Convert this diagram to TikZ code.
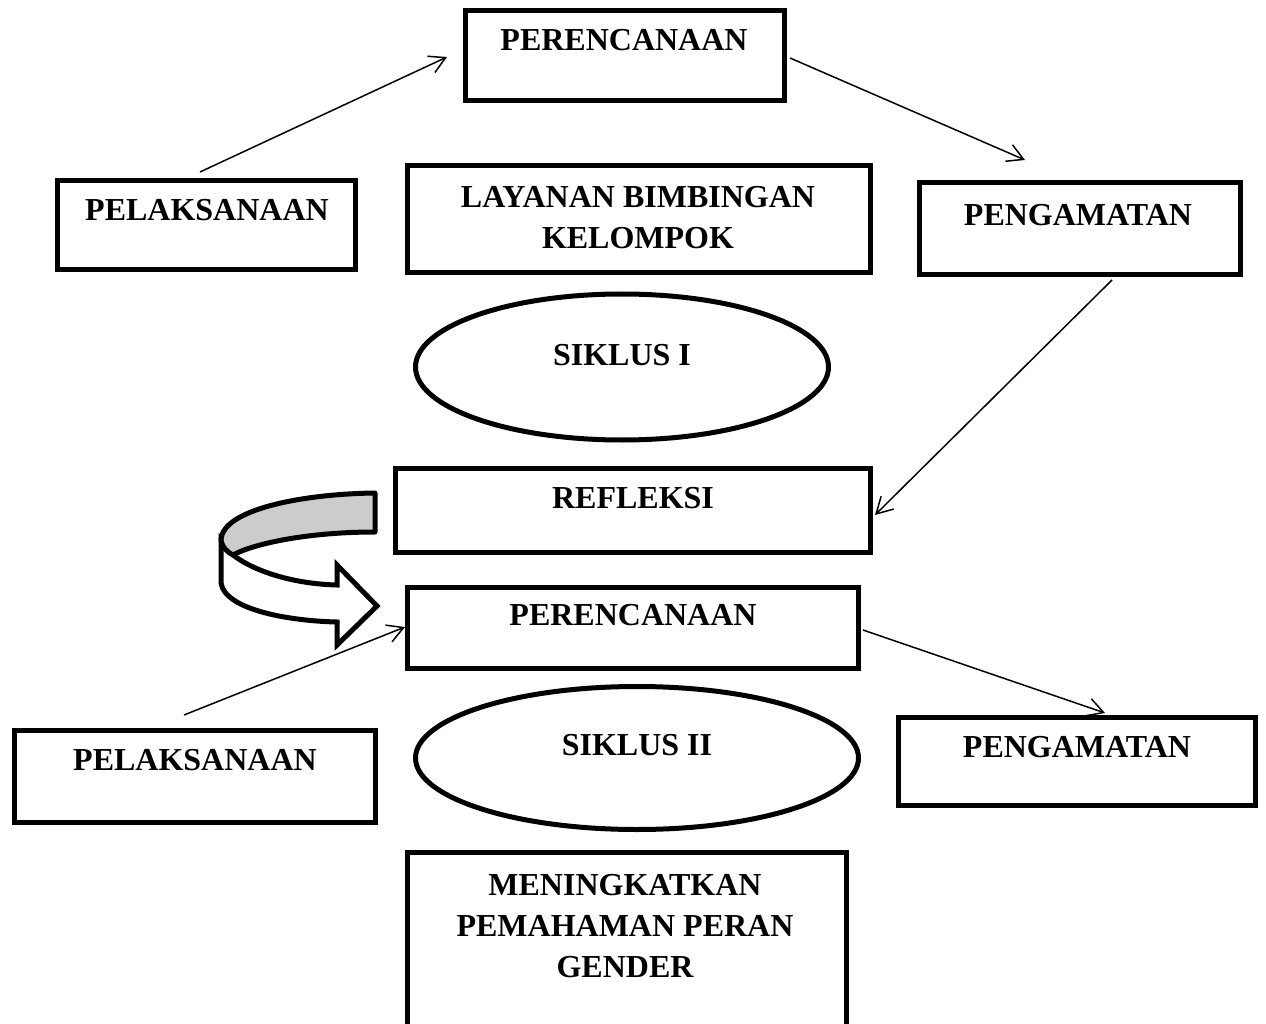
\documentclass[tikz,border=0pt]{standalone}
\usepackage{fontspec}
\setmainfont{Liberation Serif}
\usetikzlibrary{arrows.meta,shapes.geometric}
\begin{document}
\begin{tikzpicture}[x=1pt,y=-1pt,
  box/.style={draw,line width=5pt,inner sep=0pt},
  oval/.style={draw,ellipse,line width=5pt,inner sep=0pt},
  lbl/.style={font=\fontsize{32}{41}\selectfont\bfseries,align=center,inner sep=0pt},
  thin/.style={line width=1.5pt,-{Straight Barb[length=16pt,width=18pt,line width=1.5pt]}}]
\useasboundingbox (0,0) rectangle (1266,1024);
\begin{scope}
\clip (0,0) rectangle (1266,1024);
% boxes
\node[box,minimum width=319pt,minimum height=90pt] (p1) at (625,55.5) {};
\node[box,minimum width=298pt,minimum height=89pt] (l1) at (206.5,225) {};
\node[box,minimum width=463pt,minimum height=107pt] (lay) at (639,219) {};
\node[box,minimum width=321pt,minimum height=92pt] (g1) at (1080,228.5) {};
\node[oval,minimum width=413pt,minimum height=146pt] (s1) at (622,367) {};
\node[box,minimum width=475pt,minimum height=84pt] (ref) at (633,510.5) {};
\node[box,minimum width=451pt,minimum height=81pt] (p2) at (633,628) {};
\node[box,minimum width=361pt,minimum height=92pt] (l2) at (195,776.5) {};
\node[oval,minimum width=443pt,minimum height=143pt] (s2) at (637,758) {};
\node[box,minimum width=357pt,minimum height=88pt] (g2) at (1077,761.5) {};
\node[box,minimum width=439pt,minimum height=185pt] (men) at (627,944.5) {};
\end{scope}
% texts
\node[lbl] (tp1) at (624,40) {PERENCANAAN};
\node[lbl] (tl1) at (207,210) {PELAKSANAAN};
\node[lbl] (tlay) at (638,218) {LAYANAN BIMBINGAN\\KELOMPOK};
\node[lbl] (tg1) at (1078,215) {PENGAMATAN};
\node[lbl] (ts1) at (622,355) {SIKLUS I};
\node[lbl] (tref) at (633,498) {REFLEKSI};
\node[lbl] (tp2) at (633,615) {PERENCANAAN};
\node[lbl] (tl2) at (195,760) {PELAKSANAAN};
\node[lbl] (ts2) at (637,745) {SIKLUS II};
\node[lbl] (tg2) at (1077,747) {PENGAMATAN};
\node[lbl] (tmen) at (625,926) {MENINGKATKAN\\PEMAHAMAN PERAN\\GENDER};
% connector end points
\coordinate (a1s) at (200,172);
\coordinate (a1e) at (447,57);
\coordinate (a2s) at (790,58);
\coordinate (a2e) at (1025,160);
\coordinate (a3s) at (1112,280);
\coordinate (a3e) at (875,515);
\coordinate (a4s) at (184,715);
\coordinate (a4e) at (405,627);
\coordinate (a5s) at (863,630);
\coordinate (a5e) at (1105,713);
\draw[thin] (a1s) -- (a1e);
\draw[thin] (a2s) -- (a2e);
\draw[thin] (a3s) -- (a3e);
\draw[thin] (a4s) -- (a4e);
\draw[thin] (a5s) -- (a5e);
% curved ribbon arrow
\draw[line width=5pt,line join=miter,fill=white]
  (221,540) -- (221,583) .. controls (225,610) and (290,621) .. (337,622)
  -- (337,645) -- (377,606) -- (337,565) -- (337,585)
  .. controls (295,584) and (255,572) .. (233,555) -- cycle;
\draw[line width=5pt,line join=round,fill=black!20]
  (375,493) .. controls (300,494) and (222,510) .. (221,540)
  .. controls (222,547) and (227,552) .. (233,555)
  .. controls (255,543) and (310,532) .. (375,532) -- cycle;
\end{tikzpicture}
\end{document}
